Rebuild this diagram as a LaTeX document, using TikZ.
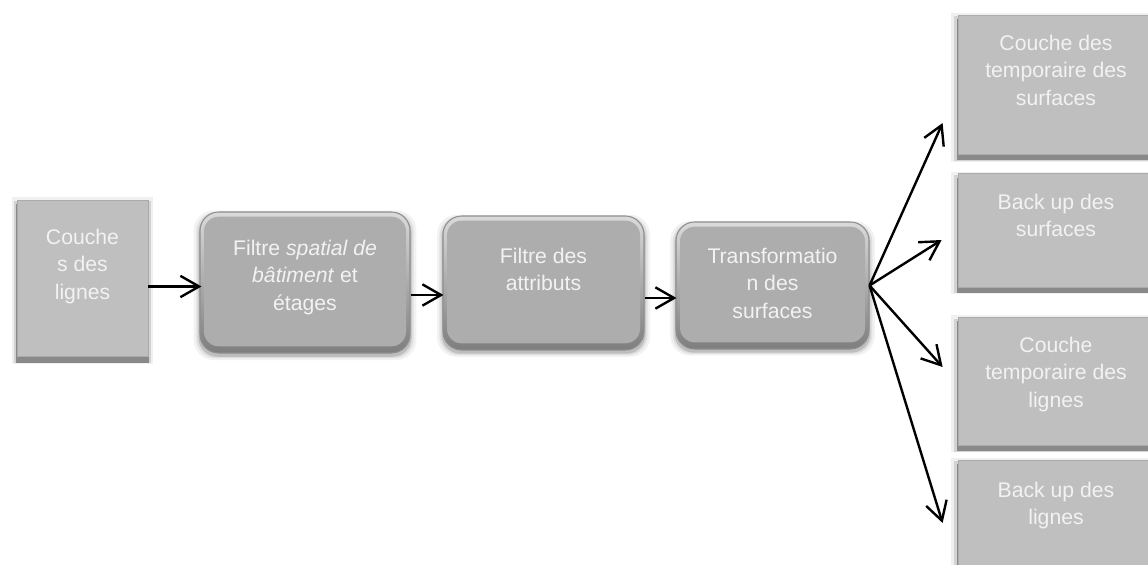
\documentclass[tikz,border=0pt]{standalone}
\usepackage{fontspec}
\setmainfont{Liberation Sans}
\usetikzlibrary{arrows.meta,calc,shadows}

\definecolor{plainfill}{HTML}{BFBFBF}
\definecolor{plainrim}{HTML}{ABABAB}
\definecolor{bevelrim}{HTML}{8E8E8E}
\definecolor{bevelbody}{HTML}{ADADAD}
\definecolor{bevellight}{HTML}{DADADA}
\definecolor{beveldark}{HTML}{7E7E7E}
\definecolor{labeltext}{HTML}{F2F2F2}

\tikzset{
  plainbox/.style={rectangle, fill=plainfill, draw=plainrim, line width=0.6pt,
    general shadow={shadow scale=1.07, shadow yshift=-2pt, fill=black, opacity=.06},
    general shadow={shadow scale=1.04, shadow yshift=-3pt, fill=black, opacity=.12},
    general shadow={shadow scale=1.015, shadow yshift=-4pt, fill=black, opacity=.35}},
  % rounded box with a bevelled rim: light along the top, dark along the bottom
  bevelbox/.style={rectangle, rounded corners=14pt, draw=bevelrim, line width=0.8pt,
    top color=bevellight, bottom color=beveldark,
    general shadow={shadow scale=1.06, shadow yshift=-2pt, fill=black, opacity=.05},
    general shadow={shadow scale=1.035, shadow yshift=-2pt, fill=black, opacity=.08},
    general shadow={shadow scale=1.015, shadow yshift=-2pt, fill=black, opacity=.15},
    path picture={
      \fill[bevelbody, rounded corners=11pt]
        ([xshift=3pt,yshift=-3.5pt]path picture bounding box.north west) rectangle
        ([xshift=-3pt,yshift=5pt]path picture bounding box.south east);
    }},
  labeltxt/.style={text=labeltext, font=\fontsize{15.9pt}{20.6pt}\selectfont,
    align=center, anchor=north, inner sep=0pt},
  flow/.style={line width=1.8pt, black,
    -{Straight Barb[length=14pt,width=16pt]}}
}

\begin{document}
\begin{tikzpicture}[x=0.75pt,y=-0.75pt]
\clip (0,0) rectangle (1148,564);

% process chain
\node[plainbox, minimum width={131*0.75pt}, minimum height={156*0.75pt}] (b1) at (82.5,278) {};
\node[bevelbox, minimum width={210*0.75pt}, minimum height={141*0.75pt}] (b2) at (305,282.5) {};
\node[bevelbox, minimum width={201*0.75pt}, minimum height={134*0.75pt}] (b3) at (543.5,283) {};
\node[bevelbox, minimum width={193*0.75pt}, minimum height={127*0.75pt}] (b4) at (772.5,285.5) {};

% output layers
\node[plainbox, minimum width={196*0.75pt}, minimum height={139*0.75pt}] (ra) at (1056,84.5) {};
\node[plainbox, minimum width={196*0.75pt}, minimum height={114*0.75pt}] (rb) at (1056,230) {};
\node[plainbox, minimum width={196*0.75pt}, minimum height={128*0.75pt}] (rc) at (1056,381) {};
\node[plainbox, minimum width={196*0.75pt}, minimum height={140*0.75pt}] (rd) at (1056,530) {};

% labels
\node[labeltxt] (t1) at ($(b1.north)+(0,29)$) {Couche\\s des\\lignes};
\node[labeltxt] (t2) at ($(b2.north)+(0,28)$) {Filtre \textit{spatial de}\\\textit{bâtiment} et\\étages};
\node[labeltxt] (t3) at ($(b3.north)+(0,32)$) {Filtre des\\attributs};
\node[labeltxt] (t4) at ($(b4.north)+(0,26)$) {Transformatio\\n des\\surfaces};
\node[labeltxt] (ta) at ($(ra.north)+(0,20)$) {Couche des\\temporaire des\\surfaces};
\node[labeltxt] (tb) at ($(rb.north)+(0,21)$) {Back up des\\surfaces};
\node[labeltxt] (tc) at ($(rc.north)+(0,20)$) {Couche\\temporaire des\\lignes};
\node[labeltxt] (td) at ($(rd.north)+(0,22)$) {Back up des\\lignes};

% connectors
\draw[flow] ($(b1.east)+(0,8.5)$) -- ($(b2.west)+(2,4)$);
\draw[flow] ($(b2.east)+(0,12.5)$) -- ($(b3.west)+(1,12)$);
\draw[flow] ($(b3.east)+(0,15)$) -- ($(b4.west)+(1,12.5)$);
\draw[flow] (b4.east) -- ($(ra.west)+(-15,38.5)$);
\draw[flow] (b4.east) -- ($(rb.west)+(-16,10)$);
\draw[flow] (b4.east) -- ($(rc.west)+(-15,-14)$);
\draw[flow] (b4.east) -- ($(rd.west)+(-15,-7)$);
\end{tikzpicture}
\end{document}
